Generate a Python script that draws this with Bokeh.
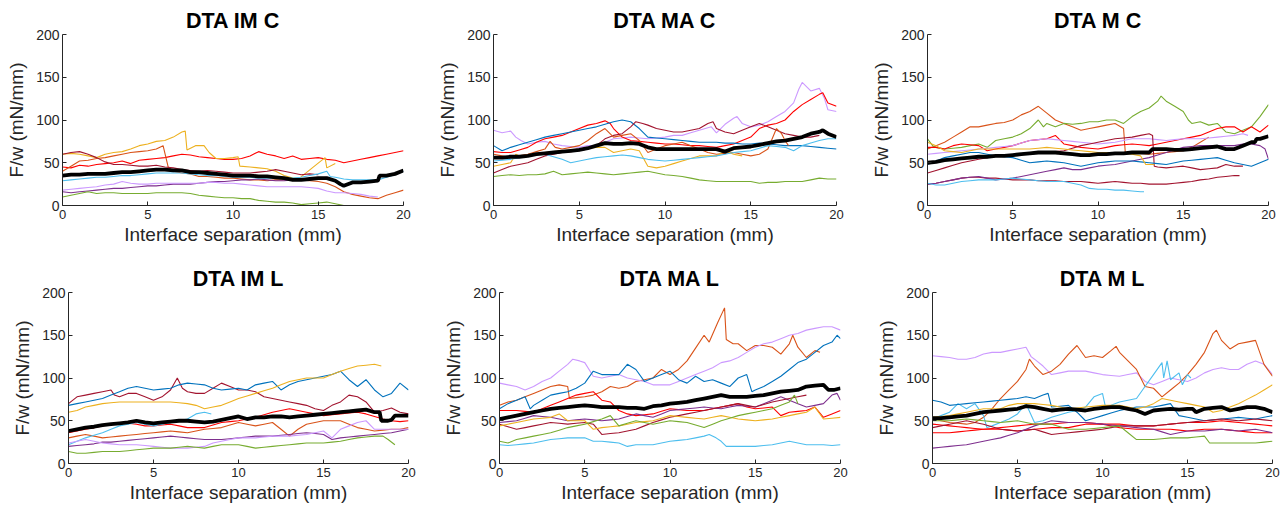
from bokeh.plotting import figure
from bokeh.layouts import column, row
from bokeh.models import Range1d, FixedTicker
from bokeh.embed import file_html
from bokeh.resources import INLINE

X_TICKS = [0, 5, 10, 15, 20]
Y_TICKS = [0, 50, 100, 150, 200]
X_LABEL = "Interface separation (mm)"
Y_LABEL = "F/w (mN/mm)"
TITLES = ["DTA IM C", "DTA MA C", "DTA M C", "DTA IM L", "DTA MA L", "DTA M L"]

COLORS = {"blue": "#0072BD", "orange": "#D95319", "yellow": "#EDB120", "purple": "#7E2F8E",
          "green": "#77AC30", "lightblue": "#4DBEEE", "darkred": "#A2142F", "darkred2": "#A2142F",
          "red": "#FF0000", "red2": "#FF0000", "lavender": "#CC99FF", "mean": "#000000"}

# ---------------- DTA IM C ----------------
im_c = {
 "red": [(0,45),(0.5,44),(1,47),(1.5,46),(2,48),(2.5,49),(3,50),(3.5,52),(4,49),(4.5,53),(5,54),(5.5,55),(6,56),(6.5,58),(7,60),(7.5,59),(8,57),(8.5,56),(9,55),(9.5,54),(10,54),(10.5,55),(11,58),(11.5,63),(12,60),(12.5,58),(13,55),(13.5,58),(14,54),(14.5,55),(15,56),(15.5,54),(16,53),(16.5,50),(17,52),(17.5,54),(18,56),(18.5,58),(19,60),(19.5,62),(20,64)],
 "yellow": [(0,60),(0.5,61),(1,60),(1.5,58),(2,56),(2.5,60),(3,62),(3.5,63),(4,66),(4.5,70),(5,72),(5.5,75),(6,76),(6.5,80),(7,86),(7.2,87),(7.3,65),(7.8,70),(8.3,70),(8.6,62),(9,55),(9.5,55),(10,56),(10.3,57),(10.4,46),(11,45),(11.5,44),(12,43),(12.5,40),(13,35),(13.5,32),(13.9,32),(15.4,56),(15.5,44),(16,49)],
 "orange": [(0,40),(0.5,46),(1,52),(1.5,53),(2,55),(2.5,56),(3,58),(3.5,60),(4,62),(4.5,63),(5,64),(5.5,66),(5.9,70),(6.2,45),(6.5,40),(7,38),(7.5,37),(8,34),(8.5,34),(9,33),(9.5,32),(10,32),(10.5,31),(11,30),(11.5,30),(12,29),(12.5,30),(13,30),(13.5,31),(14,30),(14.5,29),(15,28),(15.5,26),(16,22),(16.5,16),(17,13),(17.5,11),(18,9),(18.5,8),(19,12),(19.5,15),(20,18)],
 "darkred": [(0,60),(0.5,62),(1,63),(1.5,60),(2,56),(2.5,51),(3,48),(3.5,48),(4,47),(4.5,46),(5,46),(5.5,47),(6,45),(6.5,44),(7,42),(7.5,41),(8,40),(8.5,41),(9,40),(9.5,39),(10,38),(10.5,38),(11,38),(11.5,39),(12,40),(12.5,42),(13,40),(13.5,38),(14,36),(14.5,37),(15,36)],
 "purple": [(0,16),(0.5,15),(1,16),(1.5,17),(2,18),(2.5,19),(3,20),(3.5,20),(4,21),(4.5,22),(5,23),(5.5,23),(6,24),(6.5,25),(7,25),(7.5,25),(8,26),(8.5,27),(9,28),(9.5,28),(10,29),(10.5,30),(11,30),(11.5,31),(12,30),(12.5,29),(13,29),(13.5,30),(14,30),(14.5,31),(15,32),(15.5,33)],
 "lightblue": [(0,29),(0.5,30),(1,31),(1.5,32),(2,33),(2.5,33),(3,34),(3.5,35),(4,35),(4.5,36),(5,37),(5.5,38),(6,38),(6.5,38),(7,38),(7.5,37),(8,36),(8.5,35),(9,35),(9.5,34),(10,33),(10.5,33),(11,33),(11.5,32),(12,32),(12.5,32),(13,31),(13.5,32),(14,33),(14.5,35),(15,37),(15.5,40),(15.7,34),(16,33),(16.5,31),(17,30),(17.5,30),(18,30),(18.5,30),(19,33),(19.5,36),(20,40)],
 "lavender": [(0,18),(0.5,19),(1,20),(1.5,21),(2,22),(2.5,24),(3,25),(3.5,28),(4,26),(4.5,25),(5,25),(5.5,26),(6,26),(6.5,26),(7,26),(7.5,26),(8,26),(8.5,27),(9,27),(9.5,26),(10,26),(10.5,25),(11,24),(11.5,23),(12,22),(12.5,22),(13,22),(13.5,22),(14,22),(14.5,21),(15,20),(15.5,17),(16,15),(16.5,15),(17,14),(17.5,13),(18,11),(18.5,10)],
 "green": [(0,10),(0.5,12),(1,14),(1.5,16),(2,14),(2.5,15),(3,15),(3.5,14),(4,14),(4.5,14),(5,14),(5.5,15),(6,15),(6.5,15),(7,15),(7.5,14),(8,12),(8.5,11),(9,10),(9.5,9),(10,9),(10.5,8),(11,8),(11.5,6),(12,5),(12.5,4),(13,4),(13.5,3),(14,1),(14.5,2),(15,3),(15.5,4),(16,2),(16.5,0)],
 "mean": [(0,35),(0.5,36),(1,36),(1.5,37),(2,37),(2.5,37),(3,38),(3.5,39),(4,39),(4.5,40),(5,41),(5.5,42),(6,42),(6.5,41),(7,41),(7.5,39),(8,39),(8.5,38),(9,37),(9.5,36),(10,35),(10.5,35),(11,35),(11.5,34),(12,34),(12.5,33),(13,32),(13.5,30),(14,30),(14.5,31),(15,32),(15.5,32),(16,29),(16.3,25),(16.5,23),(17,27),(17.5,27),(18,28),(18.5,29),(18.6,35),(19,35),(19.5,37),(20,41)],
}

# ---------------- DTA MA C ----------------
ma_c = {
 "lavender": [(0,88),(0.5,85),(1,87),(1.3,80),(1.6,76),(2,72),(2.5,74),(3,75),(3.5,72),(4,70),(4.5,69),(5,68),(5.5,70),(6,70),(6.5,74),(7,78),(7.5,79),(8,80),(8.5,79),(9,78),(9.5,79),(10,80),(10.5,82),(11,82),(11.5,85),(12,88),(12.7,92),(13,85),(13.5,95),(14,102),(14.2,104),(14.5,96),(15,92),(15.5,94),(16,98),(16.5,104),(17,110),(17.5,120),(17.8,136),(18,144),(18.5,134),(19,137),(19.3,125),(19.5,112),(20,110)],
 "red": [(0,63),(0.5,62),(1,62),(1.5,65),(2,68),(2.5,74),(3,78),(3.5,80),(4,82),(4.5,86),(5,90),(5.5,94),(6,96),(6.5,99),(6.8,96),(7,90),(7.5,80),(8,76),(8.5,75),(9,74),(9.5,73),(10,72),(10.5,72),(11,71),(11.5,70),(12,70),(12.5,69),(13,68),(13.5,70),(14,72),(14.5,76),(15,80),(15.5,90),(16,94),(16.5,96),(17,100),(17.5,110),(18,118),(18.5,124),(19,130),(19.2,132),(19.5,120),(20,116)],
 "blue": [(0,70),(0.5,64),(1,68),(1.5,71),(2,74),(2.5,77),(3,80),(3.5,82),(4,84),(4.5,86),(5,88),(5.5,90),(6,92),(6.5,95),(7,98),(7.5,100),(8,98),(8.5,90),(9,80),(9.5,79),(10,78),(10.5,77),(11,76),(11.5,75),(12,74),(12.5,74),(13,74),(13.5,73),(14,73),(14.5,72),(15,72),(15.5,73),(16,72),(16.5,71),(17,70),(17.5,70),(18,70),(18.5,69),(19,68),(19.5,67),(20,66)],
 "darkred": [(0,38),(0.5,42),(1,46),(1.5,48),(2,50),(2.5,54),(3,58),(3.5,60),(4,62),(4.5,63),(5,64),(5.5,66),(6,70),(6.5,78),(7,82),(7.5,84),(8,92),(8.3,98),(8.7,96),(9,94),(9.5,90),(10,88),(10.5,86),(11,86),(11.5,88),(12,90),(12.5,96),(12.8,98),(13,90),(13.5,86),(14,84),(14.5,88),(15,92),(15.5,96),(16,92),(16.5,88),(17,84),(17.5,82),(18,80),(18.5,80),(19,82)],
 "orange": [(0,60),(0.5,58),(1,56),(1.5,58),(2,60),(2.5,63),(3,66),(3.3,75),(3.6,68),(4,66),(4.5,68),(5,70),(5.5,76),(6,84),(6.5,90),(7,80),(7.5,82),(8,84),(8.5,76),(9,62),(9.5,66),(10,70),(10.5,72),(11,74),(11.5,70),(12,66),(12.5,62),(13,60),(13.5,61),(14,62),(14.5,60),(15,58),(15.5,60),(16,66),(16.5,90),(16.8,84),(17,76),(17.2,70)],
 "yellow": [(0,46),(0.5,48),(1,50),(1.3,60),(1.6,57),(2,58),(2.5,60),(3,62),(3.5,63),(4,64),(4.5,65),(5,66),(5.5,67),(6,68),(6.5,68),(7,62),(7.5,64),(8,66),(8.5,64),(9,46),(9.5,44),(10,46),(10.5,49),(11,52),(11.5,55),(12,58),(12.5,58),(13,58),(13.5,64),(14,60),(14.5,58)],
 "lightblue": [(0,52),(0.5,53),(1,54),(1.5,56),(2,58),(2.5,59),(3,60),(3.5,57),(4,54),(4.5,50),(5,52),(5.5,54),(6,56),(6.5,57),(7,58),(7.5,59),(8,58),(8.5,56),(9,54),(9.5,53),(10,52),(10.5,53),(11,54),(11.5,55),(12,56),(12.5,57),(13,58),(13.5,60),(14,62),(14.5,63),(15,64),(15.5,67),(16,70),(16.5,69),(17,68),(17.5,64),(18,70),(18.5,73),(19,76),(19.5,78),(20,78)],
 "green": [(0,34),(0.5,35),(1,36),(1.5,35),(2,36),(2.5,36),(3,37),(3.5,40),(4,36),(4.5,37),(5,38),(5.5,39),(6,38),(6.5,37),(7,36),(7.5,37),(8,38),(8.5,39),(9,40),(9.5,38),(10,36),(10.5,35),(11,34),(11.5,32),(12,30),(12.5,29),(13,28),(13.5,28),(14,28),(14.5,28),(15,28),(15.5,26),(16,27),(16.5,27),(17,28),(17.5,28),(18,28),(18.5,30),(19,32),(19.5,31),(20,31)],
 "mean": [(0,56),(0.5,56),(1,57),(1.5,57),(2,58),(2.5,60),(3,61),(3.5,62),(4,63),(4.5,64),(5,65),(5.5,67),(6,70),(6.5,73),(7,72),(7.5,72),(8,73),(8.5,72),(9,68),(9.5,66),(10,66),(10.5,66),(11,66),(11.5,66),(12,66),(12.5,66),(13,66),(13.5,63),(14,67),(14.5,68),(15,69),(15.5,71),(16,73),(16.5,75),(17,76),(17.5,78),(18,80),(18.5,84),(19,86),(19.2,88),(19.5,84),(20,80)],
}

# ---------------- DTA M C ----------------
m_c = {
 "orange": [(0,66),(0.5,70),(1,74),(1.5,80),(2,86),(2.5,92),(3,92),(3.5,94),(4,96),(4.5,97),(5,100),(5.5,106),(6,110),(6.5,116),(7,108),(7.5,100),(8,96),(8.5,92),(9,88),(9.5,90),(10,92),(10.5,94),(11,96),(11.5,90),(11.6,62),(12,62),(12.5,61),(13,60),(13.5,61),(14,62),(14.5,63),(15,64),(15.5,68),(16,74),(16.5,80)],
 "green": [(0,78),(0.3,70),(0.5,68),(1,66),(1.5,67),(2,68),(2.5,70),(3,72),(3.5,68),(4,76),(4.5,78),(5,80),(5.5,84),(6,90),(6.5,100),(6.8,92),(7,96),(7.5,92),(8,96),(8.5,95),(9,96),(9.5,98),(10,98),(10.5,100),(11,100),(11.5,96),(12,104),(12.5,110),(13,114),(13.5,122),(13.7,128),(14,122),(14.5,116),(15,110),(15.3,100),(15.5,96),(16,98),(16.5,94),(17,96),(17.5,86),(18,84),(18.5,88),(19,92),(19.5,104),(20,118)],
 "red": [(0,68),(0.5,68),(1,66),(1.5,70),(2,72),(2.5,71),(3,70),(3.5,64),(4,66),(4.5,68),(5,70),(5.5,73),(6,76),(6.5,77),(7,78),(7.5,82),(8,72),(8.5,70),(9,68),(9.5,67),(10,66),(10.5,68),(11,70),(11.5,71),(12,72),(12.5,71),(13,70),(13.5,72),(14,74),(14.5,76),(15,78),(15.5,80),(16,82),(16.5,86),(17,90),(17.5,92),(18,92),(18.5,86),(19,92),(19.5,86),(20,94)],
 "lavender": [(0,60),(0.5,61),(1,62),(1.5,63),(2,64),(2.5,65),(3,66),(3.5,67),(4,68),(4.5,69),(5,70),(5.5,73),(6,76),(6.5,77),(7,78),(7.5,77),(8,76),(8.5,75),(9,74),(9.5,73),(10,72),(10.5,73),(11,74),(11.5,76),(12,78),(12.5,78),(13,78),(13.5,77),(14,76),(14.5,77),(15,78),(15.5,78),(16,78),(16.5,79),(17,80),(17.5,81),(18,82),(18.5,84),(18.8,82)],
 "darkred": [(0,38),(0.5,41),(1,44),(1.5,47),(2,50),(2.5,52),(3,54),(3.5,56),(4,58),(4.5,58),(5,58),(5.5,60),(6,62),(6.5,62),(7,62),(7.5,63),(8,64),(8.5,67),(9,70),(9.5,72),(10,74),(10.5,76),(11,78),(11.5,79),(12,80),(12.5,82),(13,84),(13.2,82),(13.3,46),(13.5,45),(14,44),(14.5,45),(15,46),(15.5,44),(16,42),(16.5,43),(17,44),(17.5,48),(18,46),(18.5,46)],
 "darkred2": [(0,25),(0.5,26),(1,28),(1.5,30),(2,32),(2.5,33),(3,33),(3.5,32),(4,32),(4.5,31),(5,30),(5.5,30),(6,30),(6.5,29),(7,29),(7.5,29),(8,28),(8.5,28),(9,28),(9.5,27),(10,26),(10.5,27),(11,28),(11.5,27),(12,26),(12.5,26),(13,25),(13.5,25),(14,25),(14.5,26),(15,27),(15.5,28),(16,30),(16.5,31),(17,33),(17.5,34),(18,35),(18.3,35)],
 "purple": [(0,25),(0.5,26),(1,28),(1.5,30),(2,32),(2.5,33),(3,34),(3.5,32),(4,30),(4.5,31),(5,32),(5.5,34),(6,36),(6.5,38),(7,40),(7.5,42),(8,44),(8.5,42),(9,42),(9.5,44),(10,46),(10.5,47),(11,48),(11.5,50),(12,52),(12.5,54),(13,56),(13.5,59),(14,62),(14.5,65),(15,68),(15.5,69),(16,70),(16.5,70),(17,70),(17.5,70),(18,70),(18.5,72),(19,72),(19.5,70),(19.8,66),(20,54)],
 "blue": [(0,48),(0.5,52),(1,56),(1.5,58),(2,60),(2.5,62),(3,62),(3.5,60),(4,58),(4.5,57),(5,56),(5.5,53),(6,50),(6.5,51),(7,52),(7.5,51),(8,50),(8.5,48),(9,46),(9.5,48),(10,50),(10.5,51),(11,52),(11.5,52),(12,52),(12.5,51),(13,50),(13.5,49),(14,48),(14.5,50),(15,52),(15.5,53),(16,54),(16.5,55),(17,56),(17.5,53),(18,50),(18.5,48),(19,46),(19.5,50),(20,54)],
 "yellow": [(0,74),(0.5,70),(1,64),(1.5,63),(2,62),(2.5,64),(3,66),(3.5,66),(4,66),(4.5,66),(5,66),(5.5,66),(6,66),(6.5,67),(7,68),(7.5,67),(8,66),(8.5,65),(9,64),(9.5,63),(10,62),(10.5,62),(11,62),(11.5,61),(12,60),(12.5,58),(12.8,48),(13.3,48)],
 "lightblue": [(0,26),(0.5,24),(1,24),(1.5,26),(2,28),(2.5,29),(3,30),(3.5,30),(4,30),(4.5,31),(5,32),(5.5,31),(6,30),(6.5,29),(7,28),(7.5,28),(8,28),(8.5,26),(9,24),(9.5,20),(10,19),(10.5,19),(11,18),(11.5,18),(12,17),(12.5,16),(12.7,16)],
 "mean": [(0,50),(0.5,51),(1,53),(1.5,54),(2,55),(2.5,56),(3,57),(3.5,57),(4,58),(4.5,58),(5,59),(5.5,60),(6,61),(6.5,62),(7,62),(7.5,62),(8,61),(8.5,60),(9,59),(9.5,59),(10,60),(10.5,60),(11,61),(11.5,61),(12,62),(12.5,62),(13,62),(13.2,66),(13.5,66),(14,66),(14.5,65),(15,65),(15.5,66),(16,67),(16.5,68),(17,69),(17.5,66),(18,66),(18.5,70),(19,74),(19.2,74),(19.3,78),(19.5,78),(20,81)],
}

# ---------------- DTA IM L ----------------
im_l = {
 "darkred": [(0,70),(0.5,78),(1,80),(1.5,82),(2,84),(2.5,86),(2.7,80),(3,78),(3.5,82),(4,82),(4.5,78),(5,74),(5.5,78),(6,86),(6.4,100),(6.7,88),(7,84),(7.5,82),(8,82),(8.5,88),(9,94),(9.5,90),(10,86),(10.5,86),(11,84),(11.5,78),(12,76),(12.5,74),(13,72),(13.5,70),(14,68),(14.5,64),(15,62),(15.5,68),(16,72),(16.5,80),(17,78),(17.5,72),(18,60),(18.5,62),(19,65),(19.5,60),(20,58)],
 "blue": [(0,68),(0.5,70),(1,72),(1.5,74),(2,76),(2.5,80),(3,84),(3.5,88),(4,90),(4.5,88),(5,86),(5.5,87),(6,88),(6.5,92),(7,94),(7.5,93),(8,92),(8.5,88),(9,86),(9.5,87),(10,88),(10.5,86),(11,92),(11.5,94),(12,96),(12.5,86),(13,92),(13.5,96),(14,98),(14.5,100),(15,102),(15.5,104),(16,108),(16.5,98),(17,90),(17.5,98),(18,86),(18.5,78),(19,82),(19.5,94),(20,86)],
 "yellow": [(0,60),(0.5,62),(1,66),(1.5,68),(2,70),(2.5,71),(3,72),(3.5,72),(4,72),(4.5,72),(5,72),(5.5,72),(6,72),(6.5,71),(7,70),(7.5,68),(8,64),(8.5,66),(9,68),(9.5,72),(10,76),(10.5,79),(11,82),(11.5,85),(12,88),(12.5,92),(13,96),(13.5,98),(14,100),(14.5,100),(15,100),(15.5,104),(16,108),(16.5,111),(17,114),(17.5,115),(18,116),(18.4,114)],
 "red": [(0,36),(0.5,38),(1,40),(1.5,42),(2,44),(2.5,46),(3,48),(3.5,47),(4,46),(4.5,44),(5,44),(5.5,45),(6,46),(6.5,44),(7,42),(7.5,42),(8,42),(8.5,45),(9,48),(9.5,49),(10,50),(10.5,52),(11,54),(11.5,57),(12,60),(12.5,62),(13,64),(13.5,62),(14,60),(14.5,58),(15,56),(15.5,57),(16,58),(16.5,59),(17,60),(17.5,58),(18,55),(18.5,52),(19,50),(19.5,49),(20,50)],
 "orange": [(0,30),(0.5,32),(1,34),(1.5,32),(2,30),(2.5,31),(3,32),(3.5,33),(4,34),(4.5,35),(5,36),(5.5,37),(6,38),(6.5,37),(7,36),(7.5,38),(8,40),(8.5,41),(9,42),(9.5,45),(10,48),(10.5,46),(11,44),(11.5,46),(12,48),(12.5,40),(13,32),(13.5,40),(14,46),(14.5,48),(15,50),(15.5,50),(16,50),(16.5,46),(17,42),(17.5,40),(18,38),(18.5,39),(19,40),(19.5,40),(20,42)],
 "lightblue": [(0,22),(0.5,26),(1,30),(1.5,33),(2,36),(2.5,40),(3,44),(3.5,46),(4,48),(4.5,46),(5,44),(5.5,46),(6,48),(6.5,50),(7,52),(7.5,58),(8,60),(8.4,58)],
 "purple": [(0,20),(0.5,21),(1,22),(1.5,23),(2,25),(2.5,25),(3,26),(3.5,27),(4,28),(4.5,29),(5,30),(5.5,31),(6,32),(6.5,31),(7,30),(7.5,29),(8,28),(8.5,28),(9,28),(9.5,29),(10,30),(10.5,31),(11,32),(11.5,32),(12,32),(12.5,33),(13,34),(13.5,35),(14,36),(14.5,35),(15,34),(15.5,28),(16,30),(16.5,31),(17,32),(17.5,33),(18,34),(18.5,35),(19,36),(19.5,38),(20,40)],
 "lavender": [(0,24),(0.5,26),(1,28),(1.5,26),(2,24),(2.5,23),(3,22),(3.5,22),(4,22),(4.5,21),(5,20),(5.5,19),(6,18),(6.5,18),(7,18),(7.5,19),(8,20),(8.5,24),(9,26),(9.5,28),(10,30),(10.5,30),(11,30),(11.5,31),(12,32),(12.5,32),(13,32),(13.5,33),(14,34),(14.5,36),(15,38),(15.5,30),(16,40),(16.5,44),(17,48),(17.5,50),(18,40),(18.5,40),(19,40),(19.5,40),(20,40)],
 "green": [(0,14),(0.5,12),(1,12),(1.5,13),(2,14),(2.5,14),(3,14),(3.5,15),(4,16),(4.5,17),(5,18),(5.5,18),(6,18),(6.5,19),(7,20),(7.5,19),(8,18),(8.5,20),(9,22),(9.5,22),(10,22),(10.5,20),(11,18),(11.5,19),(12,20),(12.5,21),(13,22),(13.5,23),(14,24),(14.5,24),(15,24),(15.5,25),(16,26),(16.5,28),(17,30),(17.5,31),(18,32),(18.5,32),(18.8,28),(19.2,22)],
 "mean": [(0,38),(0.5,40),(1,42),(1.5,43),(2,45),(2.5,46),(3,47),(3.5,48),(4,50),(4.5,48),(5,47),(5.5,48),(6,49),(6.5,50),(7,50),(7.5,49),(8,48),(8.5,49),(9,51),(9.5,53),(10,55),(10.5,52),(11,54),(11.5,54),(12,55),(12.5,55),(13,54),(13.5,55),(14,56),(14.5,57),(15,58),(15.5,59),(16,60),(16.5,61),(17,62),(17.5,63),(18,60),(18.3,60),(18.4,50),(18.8,50),(19,51),(19.2,56),(19.6,56),(20,56)],
}

# ---------------- DTA MA L ----------------
ma_l = {
 "orange": [(0,68),(0.5,72),(1,74),(1.5,78),(2,82),(2.5,86),(3,90),(3.5,92),(4,90),(4.1,76),(4.5,77),(5,78),(5.5,80),(6,84),(6.5,90),(7,88),(7.5,90),(8,96),(8.5,98),(9,100),(9.5,110),(10,104),(10.5,110),(11,120),(11.5,135),(12,150),(12.3,142),(12.8,165),(13.2,182),(13.3,145),(13.7,140),(14,140),(14.5,132),(15,138),(15.5,138),(16,136),(16.5,128),(17,140),(17.2,150),(17.5,136),(18,124),(18.5,132),(18.8,130)],
 "lavender": [(0,94),(0.5,92),(1,90),(1.5,86),(2,90),(2.5,96),(3,100),(3.5,108),(4,116),(4.3,122),(4.7,120),(5,118),(5.5,102),(6,100),(6.5,102),(7,104),(7.5,100),(8,98),(8.5,96),(9,92),(9.5,92),(10,92),(10.5,96),(11,100),(11.5,104),(12,108),(12.5,112),(13,118),(13.5,120),(14,124),(14.5,130),(15,136),(15.5,140),(16,142),(16.5,146),(17,150),(17.5,152),(18,156),(18.5,158),(19,160),(19.5,160),(20,156)],
 "blue": [(0,64),(0.5,70),(1,74),(1.5,78),(1.8,64),(2,68),(2.5,74),(3,80),(3.5,82),(4,84),(4.5,88),(5,94),(5.5,108),(6,104),(6.5,104),(7,104),(7.5,116),(8,110),(8.5,96),(9,100),(9.5,104),(10,108),(10.5,98),(11,94),(11.5,102),(12,96),(12.5,98),(13,94),(13.5,90),(14,100),(14.5,104),(14.8,84),(15,86),(15.5,90),(16,96),(16.5,102),(17,110),(17.5,118),(18,122),(18.5,130),(19,138),(19.5,142),(19.8,150),(20,146)],
 "red": [(0,62),(0.5,62),(1,62),(1.5,61),(2,60),(2.5,64),(3,68),(3.5,72),(4,76),(4.5,80),(5,82),(5.5,84),(6,74),(6.5,72),(7,62),(7.5,58),(8,56),(8.5,57),(9,58),(9.5,61),(10,64),(10.5,63),(11,62),(11.5,62),(12,62),(12.5,64),(13,66),(13.5,68),(14,70),(14.5,66),(15,64),(15.5,65),(16,66),(16.5,56),(17,60),(17.5,61),(18,62),(18.5,66),(19,54),(19.5,58),(20,62)],
 "purple": [(0,48),(0.5,49),(1,50),(1.5,53),(2,56),(2.5,55),(3,54),(3.5,52),(4,50),(4.5,51),(5,52),(5.5,51),(6,50),(6.5,51),(7,52),(7.5,55),(8,58),(8.5,56),(9,54),(9.5,58),(10,62),(10.5,63),(11,64),(11.5,65),(12,66),(12.5,65),(13,64),(13.5,66),(14,68),(14.5,67),(15,66),(15.5,70),(16,74),(16.5,78),(17,74),(17.5,70),(18,66),(18.5,68),(19,70),(19.5,80),(19.8,82),(20,74)],
 "darkred": [(0,46),(0.5,43),(1,40),(1.5,42),(2,44),(2.5,46),(3,48),(3.5,47),(4,46),(4.5,47),(5,48),(5.5,46),(6,34),(6.5,35),(7,36),(7.5,38),(8,40),(8.5,44),(9,48),(9.5,51),(10,54),(10.5,56),(11,58),(11.5,60),(12,62),(12.5,64),(13,66),(13.5,68),(14,70),(14.5,68),(15,66),(15.5,69),(16,72),(16.5,74),(17,76),(17.5,78),(18,80)],
 "yellow": [(0,44),(0.5,46),(1,48),(1.5,50),(2,52),(2.5,53),(3,54),(3.5,58),(4,50),(4.5,50),(5,50),(5.5,40),(6,42),(6.5,43),(7,44),(7.5,46),(8,48),(8.5,49),(9,50),(9.5,53),(10,56),(10.5,55),(11,54),(11.5,53),(12,52),(12.5,54),(13,56),(13.5,54),(14,52),(14.5,51),(15,50),(15.5,51),(16,52),(16.5,54),(17,56),(17.5,58),(18,60),(18.5,66),(19,52),(19.5,53),(20,54)],
 "green": [(0,26),(0.5,24),(1,28),(1.5,30),(2,32),(2.5,34),(3,36),(3.5,39),(4,42),(4.5,44),(5,46),(5.5,49),(6,52),(6.5,56),(7,44),(7.5,47),(8,50),(8.5,48),(9,46),(9.5,48),(10,50),(10.5,49),(11,48),(11.5,45),(12,42),(12.5,46),(13,50),(13.5,53),(14,56),(14.5,58),(15,60),(15.5,62),(16,64),(16.5,68),(17,72),(17.3,80),(17.5,70)],
 "lightblue": [(0,22),(0.5,21),(1,22),(1.5,23),(2,24),(2.5,26),(3,28),(3.5,29),(4,30),(4.5,30),(5,30),(5.5,26),(6,26),(6.5,25),(7,24),(7.5,20),(8,22),(8.5,22),(9,22),(9.5,24),(10,26),(10.5,27),(11,28),(11.5,30),(12,32),(12.3,34),(12.7,30),(13,26),(13.3,20),(13.7,20),(14,20),(14.5,20),(15,20),(15.5,21),(16,22),(16.5,24),(17,26),(17.5,24),(18,22),(18.5,22),(19,22),(19.5,21),(20,22)],
 "mean": [(0,52),(0.5,54),(1,56),(1.5,58),(2,60),(2.5,62),(3,64),(3.5,65),(4,66),(4.5,67),(5,68),(5.5,67),(6,66),(6.5,66),(7,66),(7.5,65),(8,65),(8.5,64),(9,67),(9.5,68),(10,70),(10.5,71),(11,72),(11.5,74),(12,76),(12.5,78),(13,80),(13.5,78),(14,78),(14.5,78),(15,79),(15.5,80),(16,82),(16.5,84),(17,85),(17.5,86),(18,90),(18.5,91),(19,92),(19.3,86),(19.6,86),(20,88)],
}

# ---------------- DTA M L ----------------
m_l = {
 "lavender": [(0,126),(0.5,125),(1,124),(1.5,122),(2,122),(2.5,124),(3,128),(3.5,130),(4,130),(4.5,132),(5,134),(5.5,136),(5.8,125),(6,122),(6.5,114),(7,104),(7.5,106),(8,108),(8.5,108),(9,108),(9.5,106),(10,104),(10.5,103),(11,102),(11.5,104),(12,106),(12.5,96),(13,92),(13.5,96),(14,100),(14.5,98),(15,96),(15.5,100),(16,106),(16.5,110),(17,112),(17.5,110),(18,110),(18.5,116),(19,120),(19.5,116),(20,104)],
 "orange": [(0,52),(0.5,50),(1,48),(1.5,47),(2,46),(2.5,48),(3,54),(3.5,64),(4,76),(4.5,86),(5,96),(5.5,110),(5.7,122),(6,114),(6.5,104),(7,108),(7.5,116),(8,128),(8.5,138),(9,124),(9.5,126),(10,124),(10.5,132),(10.8,137),(11,130),(11.5,120),(12,110),(12.5,90),(13,88),(13.5,78),(14,86),(14.5,94),(15,104),(15.5,116),(16,130),(16.5,152),(16.7,156),(17,144),(17.5,134),(18,140),(18.5,142),(19,144),(19.5,116),(20,102)],
 "lightblue": [(0,52),(0.5,56),(1,60),(1.5,70),(2,64),(2.5,70),(3,56),(3.2,42),(3.5,44),(4,48),(4.5,52),(5,58),(5.5,70),(6,48),(6.5,50),(7,54),(7.5,57),(8,60),(8.5,62),(9,66),(9.5,78),(10,82),(10.2,64),(10.5,68),(11,72),(11.5,74),(12,76),(12.5,90),(13,104),(13.5,118),(13.6,100),(13.8,120),(14,98),(14.5,106),(14.7,92),(15,104),(15.2,100)],
 "blue": [(0,74),(0.5,72),(1,68),(1.5,69),(2,70),(2.5,71),(3,72),(3.5,73),(4,74),(4.5,75),(5,76),(5.5,78),(6,76),(6.5,80),(6.8,82),(7,66),(7.5,67),(8,68),(8.5,60),(9,50),(9.5,53),(10,56),(10.5,59),(11,62),(11.5,64),(12,66),(12.5,66),(13,66),(13.5,68),(14,70),(14.5,56),(15,54),(15.5,52),(16,50),(16.5,51),(17,52),(17.5,53),(18,54),(18.5,53),(19,52),(19.5,54),(20,56)],
 "yellow": [(0,54),(0.5,55),(1,56),(1.5,58),(2,60),(2.5,62),(3,64),(3.5,64),(4,64),(4.5,68),(5,70),(5.5,70),(6,70),(6.5,69),(7,68),(7.5,66),(8,64),(8.5,65),(9,66),(9.5,67),(10,68),(10.5,68),(11,68),(11.5,66),(12,64),(12.5,66),(13,70),(13.5,76),(14,74),(14.5,72),(15,70),(15.5,68),(16,66),(16.5,60),(17,62),(17.5,66),(18,70),(18.5,75),(19,80),(19.5,86),(20,92)],
 "red": [(0,36),(0.5,36),(1,36),(1.5,37),(2,38),(2.5,39),(3,40),(3.5,41),(4,42),(4.5,43),(5,44),(5.5,45),(6,46),(6.5,46),(7,46),(7.5,47),(8,48),(8.5,48),(9,48),(9.5,47),(10,46),(10.5,44),(11,42),(11.5,41),(12,40),(12.5,40),(13,40),(13.5,40),(14,40),(14.5,39),(15,38),(15.5,39),(16,40),(16.5,40),(17,40),(17.5,39),(18,38),(18.5,37),(19,36),(19.5,36),(20,36)],
 "red2": [(0,46),(0.5,45),(1,44),(1.5,43),(2,42),(2.5,41),(3,40),(3.5,40),(4,40),(4.5,39),(5,38),(5.5,39),(6,40),(6.5,41),(7,42),(7.5,42),(8,42),(8.5,44),(9,46),(9.5,46),(10,46),(10.5,46),(11,46),(11.5,45),(12,44),(12.5,44),(13,44),(13.5,45),(14,46),(14.5,47),(15,48),(15.5,48),(16,48),(16.5,49),(17,50),(17.5,49),(18,48),(18.5,47),(19,46),(19.5,45),(20,44)],
 "darkred": [(0,42),(0.5,44),(1,46),(1.5,48),(2,50),(2.5,48),(3,46),(3.5,43),(4,40),(4.5,39),(5,38),(5.5,39),(6,40),(6.5,37),(7,34),(7.5,35),(8,36),(8.5,37),(9,38),(9.5,39),(10,40),(10.5,42),(11,44),(11.5,44),(12,44),(12.5,44),(13,44),(13.5,45),(14,46),(14.5,47),(15,48),(15.5,49),(16,50),(16.5,51),(17,52),(17.5,51),(18,50),(18.5,51),(19,52),(19.5,51),(20,50)],
 "purple": [(0,18),(0.5,19),(1,20),(1.5,21),(2,22),(2.5,24),(3,26),(3.5,28),(4,30),(4.5,33),(5,36),(5.5,40),(6,44),(6.5,47),(7,50),(7.5,49),(8,48),(8.5,48),(9,48),(9.5,47),(10,46),(10.5,45),(11,44),(11.5,43),(12,42),(12.5,41),(13,40),(13.5,37),(14,34),(14.5,36),(15,38),(15.5,38),(16,38),(16.5,39),(17,40),(17.5,39),(18,38),(18.5,39),(19,40),(19.5,38),(20,36)],
 "green": [(0,50),(0.5,50),(1,50),(1.5,51),(2,52),(2.5,51),(3,50),(3.5,49),(4,48),(4.5,49),(5,50),(5.5,48),(6,46),(6.5,46),(7,46),(7.5,43),(8,40),(8.5,40),(9,40),(9.5,41),(10,42),(10.5,43),(11,44),(11.5,36),(12,28),(12.5,28),(13,28),(13.5,29),(14,30),(14.5,30),(15,30),(15.5,31),(16,32),(16.3,24),(16.5,24),(17,24),(17.5,24),(18,24),(18.5,24),(19,24),(19.5,25),(20,26)],
 "mean": [(0,53),(0.5,53),(1,54),(1.5,55),(2,56),(2.5,58),(3,60),(3.5,61),(4,62),(4.5,63),(5,64),(5.5,67),(6,66),(6.5,64),(7,62),(7.5,63),(8,64),(8.5,63),(9,62),(9.5,64),(10,65),(10.5,66),(11,66),(11.5,64),(12,62),(12.5,58),(13,62),(13.5,63),(14,64),(14.5,63),(15,64),(15.3,64),(15.5,60),(16,64),(16.5,65),(17,66),(17.5,62),(18,64),(18.5,66),(19,66),(19.5,64),(20,60)],
}

PANELS = [im_c, ma_c, m_c, im_l, ma_l, m_l]

# layout geometry: (width, height, left, right, top, bottom)
GEOM = [(430, 255, 62, 27, 34, 50), (430, 255, 63, 24, 34, 50), (423, 255, 67, 15, 34, 50),
        (430, 254, 68, 22, 37, 46), (430, 254, 69, 20, 37, 46), (423, 254, 72, 11, 37, 46)]

FONT = "Liberation Sans"
AX_COLOR = "#262626"


def make_panel(title, series, geom):
    w, h, bl, br, bt, bb = geom
    p = figure(width=w, height=h, x_range=Range1d(0, 20), y_range=Range1d(0, 200),
               output_backend="svg", toolbar_location=None,
               min_border_left=bl, min_border_right=br, min_border_top=bt, min_border_bottom=bb)
    p.title.text = title
    p.title.align = "center"
    p.title.text_font = FONT
    p.title.text_font_size = "21.5px"
    p.title.text_font_style = "bold"
    p.title.text_color = "#000000"
    p.title.standoff = 4
    p.outline_line_color = None
    p.xgrid.visible = False
    p.ygrid.visible = False
    for ax, ticks in ((p.xaxis[0], X_TICKS), (p.yaxis[0], Y_TICKS)):
        ax.ticker = FixedTicker(ticks=ticks)
        ax.minor_tick_line_color = None
        ax.major_tick_in = 4
        ax.major_tick_out = 0
        ax.axis_line_color = AX_COLOR
        ax.major_tick_line_color = AX_COLOR
        ax.major_label_text_font = FONT
        ax.major_label_text_color = AX_COLOR
        ax.axis_label_text_font = FONT
        ax.axis_label_text_font_size = "19px"
        ax.axis_label_text_font_style = "normal"
        ax.axis_label_text_color = AX_COLOR
    p.xaxis.major_label_text_font_size = "13px"
    p.yaxis.major_label_text_font_size = "14px"
    p.xaxis.axis_label = X_LABEL
    p.yaxis.axis_label = Y_LABEL
    p.xaxis.major_label_standoff = 4
    p.xaxis.axis_label_standoff = 2
    p.yaxis.major_label_standoff = 3
    p.yaxis.axis_label_standoff = 6
    for name, pts in series.items():
        if name == "mean":
            continue
        xs = [a for a, b in pts]
        ys = [b for a, b in pts]
        p.line(xs, ys, line_color=COLORS[name], line_width=1.1)
    pts = series["mean"]
    p.line([a for a, b in pts], [b for a, b in pts], line_color=COLORS["mean"], line_width=3.8)
    return p


figs = [make_panel(t, s, g) for t, s, g in zip(TITLES, PANELS, GEOM)]
layout = column(row(*figs[:3]), row(*figs[3:]))
open("out.html", "w").write(file_html(layout, INLINE))
